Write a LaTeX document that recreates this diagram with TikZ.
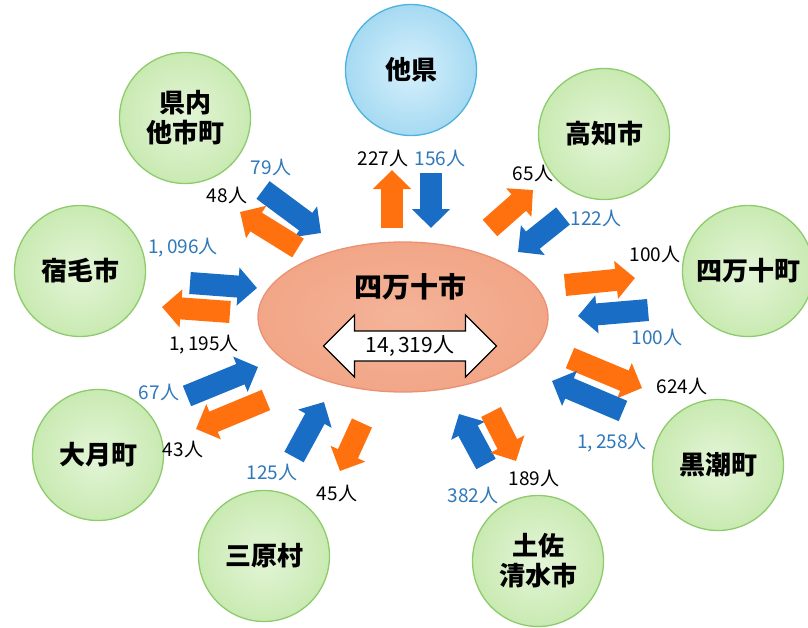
\documentclass[tikz,border=0pt]{standalone}
\usepackage{fontspec}
\setmainfont{Noto Sans CJK JP}
\usetikzlibrary{shapes.geometric,shapes.arrows,arrows.meta}
\definecolor{verdechiaro}{HTML}{C9EAB2}
\definecolor{verdecentro}{HTML}{E4F5D8}
\definecolor{verdebordo}{HTML}{8DCB6C}
\definecolor{celeste}{HTML}{A6DAF2}
\definecolor{celestecentro}{HTML}{D6F0FC}
\definecolor{celestebordo}{HTML}{4CB2DE}
\definecolor{salmone}{HTML}{F2A687}
\definecolor{salmonebordo}{HTML}{E99273}
\definecolor{arancio}{HTML}{FF700F}
\definecolor{blu}{HTML}{1A6DC4}
\definecolor{blutesto}{HTML}{2F78BA}
\tikzset{
  comune/.style={circle, minimum size=131pt, inner sep=0pt, line width=1.3pt,
    draw=verdebordo, inner color=verdecentro, outer color=verdechiaro,
    align=center, font=\fontsize{26}{30}\selectfont\bfseries},
  uscita/.style={draw=arancio, line width=22pt, -{Triangle[width=37pt,length=19pt]}},
  entrata/.style={draw=blu, line width=22pt, -{Triangle[width=37pt,length=19pt]}},
  num/.style={font=\fontsize{19}{21}\selectfont, inner sep=0pt},
  numblu/.style={num, text=blutesto}
}

\begin{document}
\begin{tikzpicture}[x=1pt,y=-1pt]
\useasboundingbox (0,0) rectangle (808,627);
% comuni intorno
   \node[comune, draw=celestebordo, inner color=celestecentro, outer color=celeste]
     (taken) at (411,70) {他県};
   \node[comune] (kennai) at (185,118) {県内\\他市町};
   \node[comune] (kochi) at (604,134) {高知市};
   \node[comune] (shimantocho) at (748,271) {四万十町};
   \node[comune] (sukumo) at (80,271) {宿毛市};
   \node[comune] (kuroshio) at (718,465) {黒潮町};
   \node[comune] (otsuki) at (98,455) {大月町};
   \node[comune] (mihara) at (264,556) {三原村};
   \node[comune] (tosashimizu) at (538,561) {土佐\\清水市};
% ellisse centrale
   \node[ellipse, minimum width=290pt, minimum height=150pt, line width=1.3pt,
     draw=salmonebordo, inner color=salmone!85!white, outer color=salmone]
     (shimanto) at (403,317) {};
   \node[font=\fontsize{28}{30}\selectfont\bfseries] (nome) at (410,287) {四万十市};
   \node[double arrow, draw, line width=1.2pt, fill=white, minimum height=173pt,
     double arrow head extend=16pt, inner sep=4pt,
     font=\fontsize{21}{23}\selectfont] (interno) at (410,346) {14,\,319人};
% frecce verso/da altri comuni
   \draw[uscita] (392,228) -- (392,170); \draw[entrata] (431,173) -- (431,228);
   \node[num] (t1) at (383,158) {227人}; \node[numblu] (t2) at (440,158) {156人};
% kochi
   \draw[uscita] (490,228) -- (533,190); \draw[entrata] (563,216) -- (518,252);
   \node[num] (k1) at (533,173) {65人}; \node[numblu] (k2) at (596,218) {122人};
% shimanto-cho
   \draw[uscita] (565,285) -- (635,278); \draw[entrata] (648,310) -- (578,316);
   \node[num] (s1) at (655,254) {100人}; \node[numblu] (s2) at (657,337) {100人};
% kuroshio
   \draw[uscita] (570,358) -- (642,388); \draw[entrata] (623,411) -- (552,381);
   \node[num] (u1) at (682,386) {624人}; \node[numblu] (u2) at (612,443) {1,\,258人};
% tosashimizu
   \draw[entrata] (486,464) -- (459,414); \draw[uscita] (491,412) -- (516,461);
   \node[num] (w1) at (534,478) {189人}; \node[numblu] (w2) at (473,495) {382人};
% mihara
   \draw[entrata] (294,457) -- (324,402); \draw[uscita] (362,423) -- (340,471);
   \node[numblu] (m1) at (272,472) {125人}; \node[num] (m2) at (337,493) {45人};
% otsuki
   \draw[entrata] (187,396) -- (258,367); \draw[uscita] (266,400) -- (196,429);
   \node[numblu] (o1) at (159,392) {67人}; \node[num] (o2) at (183,449) {43人};
% sukumo
   \draw[entrata] (190,283) -- (257,288); \draw[uscita] (230,312) -- (162,307);
   \node[numblu] (p1) at (183,248) {1,\,096人}; \node[num] (p2) at (204,345) {1,\,195人};
% kennai
   \draw[entrata] (263,190) -- (321,233); \draw[uscita] (298,248) -- (240,212);
   \node[numblu] (q1) at (271,167) {79人}; \node[num] (q2) at (227,195) {48人};
\end{tikzpicture}
\end{document}
